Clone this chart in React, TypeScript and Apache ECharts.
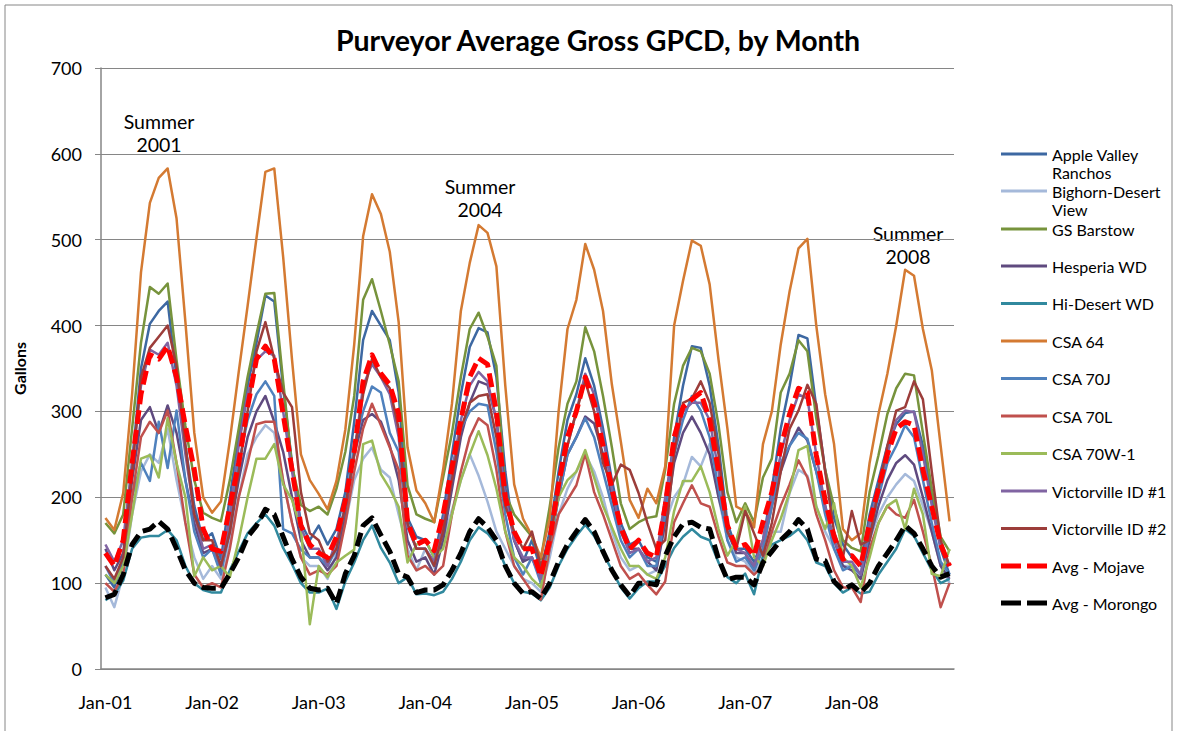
import React, { useEffect, useRef } from 'react';
import * as echarts from 'echarts';

const monthNames = ['Jan', 'Feb', 'Mar', 'Apr', 'May', 'Jun', 'Jul', 'Aug', 'Sep', 'Oct', 'Nov', 'Dec'];
const yearSuffixes = ['01', '02', '03', '04', '05', '06', '07', '08'];
const categories = yearSuffixes.flatMap((y) => monthNames.map((m) => `${m}-${y}`));

const appleValley = [
  110, 95, 125, 240, 350, 402, 417, 428, 340, 260, 190, 150,
  158, 128, 200, 270, 330, 380, 435, 428, 327, 240, 170, 150,
  167, 145, 163, 206, 288, 383, 417, 400, 383, 322, 176, 154,
  150, 130, 180, 250, 320, 375, 397, 392, 340, 230, 150, 125,
  150, 115, 160, 230, 290, 320, 362, 330, 280, 220, 170, 145,
  150, 130, 125, 190, 270, 330, 376, 374, 330, 260, 170, 140,
  140, 125, 150, 210, 280, 330, 389, 385, 305, 232, 176, 145,
  130, 120, 180, 220, 260, 285, 298, 300, 260, 200, 140, 110,
];
const bighorn = [
  95, 72, 110, 180, 230, 250, 240, 280, 220, 170, 130, 105,
  120, 105, 150, 200, 250, 270, 284, 275, 220, 170, 130, 120,
  120, 105, 135, 170, 220, 245, 258, 232, 223, 180, 140, 115,
  140, 118, 150, 185, 220, 250, 225, 195, 160, 140, 120, 105,
  100, 90, 130, 180, 210, 230, 250, 230, 200, 160, 130, 115,
  120, 110, 115, 170, 200, 215, 247, 236, 262, 200, 150, 130,
  125, 110, 130, 160, 160, 205, 232, 225, 190, 160, 140, 120,
  120, 105, 150, 180, 200, 215, 227, 219, 190, 160, 120, 100,
];
const gsBarstow = [
  170, 158, 180, 280, 380, 445, 437, 449, 360, 283, 220, 182,
  176, 172, 220, 280, 340, 390, 437, 438, 335, 236, 191, 184,
  189, 180, 210, 253, 318, 430, 454, 417, 378, 335, 214, 180,
  175, 171, 223, 275, 340, 396, 415, 387, 353, 205, 180, 167,
  154, 128, 189, 258, 309, 335, 398, 370, 318, 258, 193, 163,
  171, 176, 178, 232, 309, 353, 374, 370, 344, 284, 206, 171,
  193, 171, 223, 245, 322, 344, 383, 370, 292, 232, 189, 150,
  141, 137, 206, 249, 297, 327, 344, 342, 275, 210, 154, 137,
];
const hesperia = [
  140, 115, 135, 220, 290, 305, 275, 307, 275, 220, 170, 135,
  140, 115, 160, 220, 270, 300, 318, 288, 253, 200, 150, 130,
  130, 115, 130, 180, 250, 290, 297, 288, 260, 220, 150, 125,
  130, 110, 150, 210, 270, 310, 335, 331, 290, 210, 150, 125,
  130, 105, 145, 200, 250, 270, 294, 286, 250, 200, 160, 140,
  140, 125, 115, 170, 240, 275, 294, 275, 250, 200, 160, 135,
  135, 115, 140, 190, 230, 260, 281, 266, 230, 190, 150, 120,
  115, 105, 150, 190, 220, 240, 249, 238, 200, 160, 120, 105,
];
const hiDesert = [
  80, 87, 103, 140, 153, 155, 155, 162, 150, 120, 100, 92,
  89, 89, 115, 137, 158, 170, 180, 167, 141, 122, 100, 89,
  89, 94, 70, 102, 124, 150, 167, 141, 124, 100, 107, 87,
  88, 86, 90, 105, 125, 150, 165, 158, 145, 120, 100, 90,
  88, 80, 95, 120, 140, 155, 168, 155, 135, 115, 95, 82,
  94, 102, 102, 120, 141, 154, 163, 154, 150, 124, 107, 100,
  111, 87, 132, 145, 150, 155, 163, 150, 124, 120, 100, 89,
  95, 88, 90, 110, 125, 140, 163, 155, 135, 115, 100, 105,
];
const csa64 = [
  176, 162, 205, 320, 462, 543, 572, 583, 525, 404, 275, 200,
  182, 195, 266, 346, 423, 502, 579, 583, 480, 360, 250, 220,
  204, 186, 219, 279, 378, 504, 553, 530, 486, 404, 258, 208,
  193, 171, 232, 309, 417, 473, 517, 508, 469, 330, 215, 175,
  155, 130, 175, 300, 396, 430, 495, 465, 417, 331, 265, 197,
  176, 210, 193, 236, 400, 452, 499, 493, 448, 360, 280, 189,
  184, 165, 262, 300, 378, 440, 490, 501, 400, 320, 262, 163,
  150, 158, 240, 297, 344, 400, 465, 458, 396, 348, 260, 172,
];
const csa70J = [
  120, 100, 130, 200, 240, 219, 288, 234, 301, 220, 160, 130,
  140, 110, 170, 240, 290, 320, 335, 318, 163, 158, 139, 130,
  130, 120, 140, 190, 260, 300, 329, 322, 275, 253, 167, 140,
  140, 120, 170, 230, 280, 300, 309, 307, 253, 180, 130, 110,
  130, 100, 140, 200, 250, 270, 292, 270, 230, 190, 150, 130,
  140, 120, 120, 180, 250, 290, 318, 301, 270, 210, 150, 125,
  130, 115, 140, 190, 240, 260, 275, 268, 230, 180, 140, 115,
  120, 110, 160, 200, 240, 260, 284, 270, 220, 170, 125, 110,
];
const csa70L = [
  100, 90, 110, 200, 270, 288, 275, 301, 240, 170, 110, 95,
  100, 95, 140, 200, 240, 285, 288, 288, 219, 170, 130, 110,
  115, 110, 120, 170, 230, 280, 309, 284, 258, 232, 132, 115,
  120, 110, 120, 180, 230, 270, 292, 284, 232, 160, 120, 105,
  90, 81, 140, 180, 197, 214, 251, 206, 180, 150, 120, 105,
  111, 98, 87, 102, 171, 193, 214, 193, 189, 154, 124, 120,
  120, 110, 120, 160, 190, 215, 243, 223, 180, 150, 115, 95,
  95, 78, 140, 170, 190, 180, 176, 197, 160, 120, 72, 100,
];
const csa70W1 = [
  110, 100, 120, 180, 245, 249, 223, 292, 240, 200, 108, 130,
  115, 120, 107, 150, 200, 245, 245, 262, 215, 197, 163, 52,
  120, 107, 124, 132, 139, 262, 266, 227, 210, 189, 124, 145,
  150, 130, 140, 180, 220, 250, 277, 249, 210, 160, 130, 120,
  105, 95, 150, 200, 220, 230, 255, 223, 190, 165, 140, 120,
  120, 110, 105, 130, 184, 219, 219, 236, 206, 163, 132, 150,
  190, 130, 120, 150, 175, 206, 255, 260, 189, 163, 193, 130,
  120, 95, 130, 170, 190, 197, 163, 210, 180, 111, 108, 140,
];
const victorville1 = [
  145, 125, 150, 240, 330, 372, 366, 380, 330, 250, 180, 140,
  145, 120, 180, 260, 320, 360, 370, 365, 300, 230, 165, 140,
  140, 120, 150, 190, 250, 330, 355, 340, 320, 270, 165, 140,
  140, 125, 170, 230, 290, 330, 346, 335, 290, 200, 150, 130,
  130, 105, 150, 210, 260, 300, 344, 320, 270, 210, 160, 135,
  140, 125, 130, 200, 260, 300, 310, 310, 290, 230, 160, 140,
  135, 120, 150, 200, 250, 290, 320, 315, 250, 190, 150, 125,
  125, 110, 170, 210, 250, 290, 301, 299, 250, 190, 140, 120,
];
const victorville2 = [
  120, 105, 130, 230, 340, 374, 387, 400, 353, 260, 180, 150,
  150, 120, 160, 230, 300, 370, 404, 361, 322, 305, 206, 158,
  150, 125, 140, 190, 250, 320, 361, 340, 327, 280, 170, 140,
  140, 120, 160, 220, 280, 310, 318, 320, 270, 190, 160, 140,
  160, 120, 150, 210, 260, 300, 335, 300, 240, 215, 238, 232,
  205, 170, 140, 150, 250, 310, 315, 335, 310, 250, 160, 140,
  184, 158, 132, 170, 230, 280, 301, 331, 309, 230, 160, 130,
  184, 145, 150, 210, 260, 301, 305, 335, 314, 230, 150, 120,
];
const avgMojave = [
  135, 120, 150, 240, 320, 366, 361, 376, 340, 283, 232, 163,
  140, 137, 189, 240, 305, 361, 376, 361, 297, 232, 167, 145,
  135, 130, 154, 197, 253, 335, 366, 344, 331, 297, 171, 145,
  150, 138, 180, 235, 290, 340, 362, 355, 300, 200, 160, 140,
  140, 108, 150, 215, 270, 300, 340, 310, 260, 210, 165, 140,
  150, 135, 130, 190, 270, 305, 314, 322, 290, 230, 167, 141,
  145, 132, 171, 206, 258, 297, 327, 322, 249, 197, 154, 128,
  132, 120, 170, 210, 250, 280, 288, 284, 232, 189, 145, 120,
];
const avgMorongo = [
  83, 87, 110, 145, 160, 163, 172, 163, 140, 115, 100, 95,
  94, 94, 111, 130, 154, 167, 186, 180, 154, 128, 107, 94,
  92, 94, 76, 111, 132, 167, 176, 156, 137, 111, 107, 89,
  92, 92, 98, 115, 135, 160, 175, 165, 150, 120, 100, 88,
  90, 82, 100, 125, 145, 160, 174, 160, 137, 115, 98, 85,
  100, 100, 98, 132, 154, 169, 171, 165, 163, 128, 104, 107,
  107, 98, 124, 137, 150, 160, 174, 163, 128, 126, 102, 92,
  98, 89, 100, 120, 135, 150, 167, 158, 140, 120, 107, 111,
];

const seriesDefs = [
  { name: 'Apple Valley Ranchos', label: 'Apple Valley\nRanchos', data: appleValley, color: '#3D68A2', dashed: false },
  { name: 'Bighorn-Desert View', label: 'Bighorn-Desert\nView', data: bighorn, color: '#A5B9DA', dashed: false },
  { name: 'GS Barstow', label: 'GS Barstow', data: gsBarstow, color: '#77933C', dashed: false },
  { name: 'Hesperia WD', label: 'Hesperia WD', data: hesperia, color: '#5F4A7F', dashed: false },
  { name: 'Hi-Desert WD', label: 'Hi-Desert WD', data: hiDesert, color: '#31899E', dashed: false },
  { name: 'CSA 64', label: 'CSA 64', data: csa64, color: '#D47A32', dashed: false },
  { name: 'CSA 70J', label: 'CSA 70J', data: csa70J, color: '#4F81BD', dashed: false },
  { name: 'CSA 70L', label: 'CSA 70L', data: csa70L, color: '#C0504D', dashed: false },
  { name: 'CSA 70W-1', label: 'CSA 70W-1', data: csa70W1, color: '#9BBB59', dashed: false },
  { name: 'Victorville ID #1', label: 'Victorville ID #1', data: victorville1, color: '#8064A2', dashed: false },
  { name: 'Victorville ID #2', label: 'Victorville ID #2', data: victorville2, color: '#9C3D3A', dashed: false },
  { name: 'Avg - Mojave', label: 'Avg - Mojave', data: avgMojave, color: '#FF0000', dashed: true },
  { name: 'Avg - Morongo', label: 'Avg - Morongo', data: avgMorongo, color: '#000000', dashed: true },
];

const legendCenters = [154, 191, 229, 266, 303.5, 341, 378.5, 416, 453.5, 491, 528.5, 566, 603];

export default function App() {
  const ref = useRef<HTMLDivElement>(null);
  useEffect(() => {
    const chart = echarts.init(ref.current as HTMLDivElement, null, { renderer: 'svg' });
    const font = 'Lato, "Open Sans", sans-serif';
    const L = 18;
    const legends = seriesDefs.map((s, i) => {
      const twoLine = s.label.includes('\n');
      return {
        data: [s.name],
        left: 1001,
        top: legendCenters[i] - (twoLine ? 1.5 * L : L / 2),
        orient: 'vertical',
        padding: 0,
        itemWidth: 46,
        itemHeight: s.dashed ? 5 : 3,
        icon: s.dashed ? 'path://M0,0H20V5H0Z M26,0H46V5H26Z' : 'rect',
        itemStyle: { borderWidth: 0 },
        selectedMode: false,
        formatter: () => (twoLine ? '\n' + s.label : s.label),
        textStyle: {
          fontFamily: font,
          fontSize: 16,
          color: '#000',
          lineHeight: L,
        },
      };
    });
    const option: any = {
      animation: false,
      backgroundColor: '#fff',
      title: {
        text: 'Purveyor Average Gross GPCD, by Month',
        left: 593,
        textAlign: 'center',
        top: 20,
        textStyle: { fontFamily: font, fontWeight: 'bold', fontSize: 28.5, color: '#000' },
      },
      legend: legends,
      grid: { left: 101, right: 224, top: 68, bottom: 62, containLabel: false },
      xAxis: {
        type: 'category',
        data: categories,
        boundaryGap: true,
        axisLine: { lineStyle: { color: '#868686', width: 1.5 } },
        axisTick: { interval: 11, length: 5, lineStyle: { color: '#868686' } },
        axisLabel: { interval: 11, color: '#000', fontFamily: font, fontSize: 18, margin: 24 },
        splitLine: { show: false },
      },
      yAxis: {
        type: 'value',
        min: 0,
        max: 700,
        interval: 100,
        name: 'Gallons',
        nameLocation: 'middle',
        nameGap: 74,
        nameRotate: 90,
        nameTextStyle: { fontFamily: font, fontWeight: 'bold', fontSize: 16, color: '#000' },
        axisLine: { show: true, lineStyle: { color: '#868686', width: 1.5 } },
        axisTick: { show: true, length: 6, lineStyle: { color: '#868686' } },
        axisLabel: { color: '#000', fontFamily: font, fontSize: 18, margin: 19 },
        splitLine: { lineStyle: { color: '#868686', width: 1 } },
      },
      series: seriesDefs.map((s) => ({
        name: s.name,
        type: 'line',
        data: s.data,
        symbol: 'none',
        silent: true,
        color: s.color,
        itemStyle: { color: s.color },
        lineStyle: {
          color: s.color,
          width: s.dashed ? 5 : 2.5,
          type: s.dashed ? [14, 6] : 'solid',
          cap: 'butt',
          join: 'round',
        },
        emphasis: { disabled: true },
      })),
      graphic: [
        {
          type: 'rect',
          shape: { x: 5, y: 5, width: 1167, height: 740 },
          style: { fill: 'none', stroke: '#868686', lineWidth: 1 },
          silent: true,
        },
        {
          type: 'text',
          x: 159,
          y: 110,
          style: { text: 'Summer\n2001', fill: '#000', font: `19.5px ${font}`, textAlign: 'center', lineHeight: 23 },
        },
        {
          type: 'text',
          x: 480,
          y: 175,
          style: { text: 'Summer\n2004', fill: '#000', font: `19.5px ${font}`, textAlign: 'center', lineHeight: 23 },
        },
        {
          type: 'text',
          x: 908,
          y: 222,
          style: { text: 'Summer\n2008', fill: '#000', font: `19.5px ${font}`, textAlign: 'center', lineHeight: 23 },
        },
      ],
    };
    chart.setOption(option);
    return () => chart.dispose();
  }, []);
  return (
    <div
      ref={ref}
      style={{ position: 'fixed', left: 0, top: 0, width: 1178, height: 731, background: '#fff' }}
    />
  );
}
